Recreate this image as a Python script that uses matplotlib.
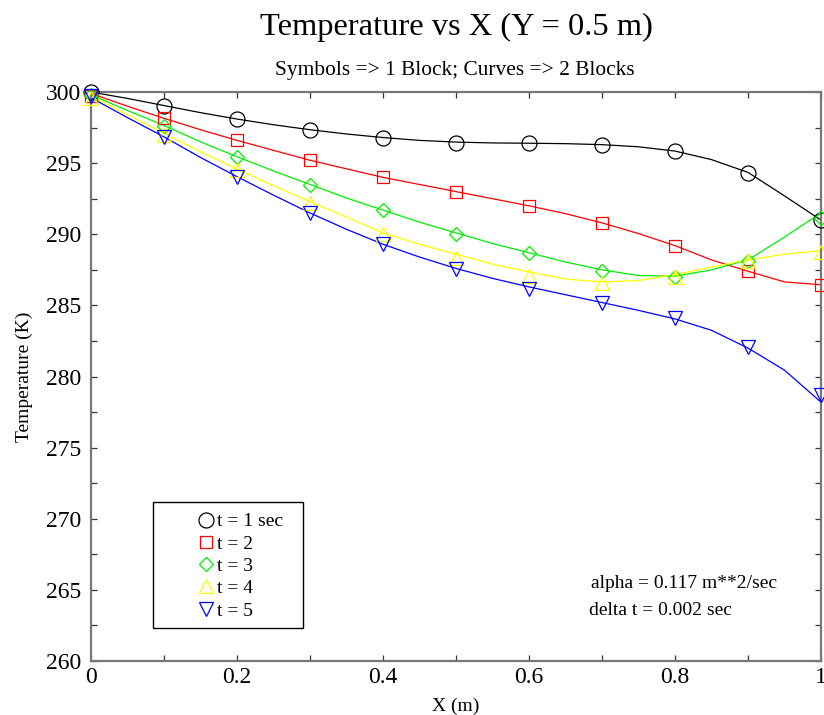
import numpy as np
import matplotlib
matplotlib.use('Agg')
import matplotlib.pyplot as plt
from matplotlib.patches import Rectangle
from matplotlib.ticker import MultipleLocator

plt.rcParams['font.family'] = ['Liberation Serif', 'DejaVu Serif']

# symbols: 1 block
x_sym = [0.0, 0.1, 0.2, 0.3, 0.4, 0.5, 0.6, 0.7, 0.8, 0.9, 1.0]
t1_sym = [300.0, 299.0, 298.1, 297.3, 296.8, 296.45, 296.4, 296.3, 295.85, 294.3, 291.0]
t2_sym = [299.7, 298.15, 296.6, 295.2, 294.0, 293.0, 292.0, 290.8, 289.2, 287.4, 286.45]
t3_sym = [299.8, 297.6, 295.45, 293.45, 291.7, 290.05, 288.65, 287.45, 287.0, 288.15, 291.15]
t4_sym = [299.6, 297.0, 294.5, 292.2, 290.0, 288.3, 287.1, 286.6, 287.0, 288.1, 288.75]
t5_sym = [299.7, 296.85, 294.05, 291.5, 289.3, 287.55, 286.15, 285.2, 284.1, 282.1, 278.7]

# curves: 2 blocks
x_curve = [0.0, 0.05, 0.1, 0.15, 0.2, 0.25, 0.3, 0.35, 0.4, 0.45, 0.5,
           0.55, 0.6, 0.65, 0.7, 0.75, 0.8, 0.85, 0.9, 0.95, 1.0]
t1_curve = [300.0, 299.55, 299.05, 298.55, 298.1, 297.7, 297.35, 297.05, 296.8, 296.6, 296.48,
            296.42, 296.4, 296.37, 296.3, 296.15, 295.85, 295.25, 294.35, 292.7, 291.0]
t2_curve = [299.9, 299.0, 298.15, 297.35, 296.6, 295.9, 295.2, 294.6, 294.0, 293.5, 293.0,
            292.5, 292.0, 291.45, 290.8, 290.05, 289.2, 288.2, 287.4, 286.65, 286.45]
t3_curve = [299.8, 298.7, 297.65, 296.5, 295.45, 294.45, 293.5, 292.55, 291.7, 290.85, 290.1,
            289.35, 288.7, 288.05, 287.5, 287.1, 287.05, 287.5, 288.2, 289.8, 291.5]
t4_curve = [299.7, 298.4, 297.1, 295.8, 294.6, 293.4, 292.3, 291.2, 290.1, 289.3, 288.6,
            287.9, 287.35, 286.85, 286.65, 286.75, 287.15, 287.7, 288.2, 288.6, 288.85]
t5_curve = [299.6, 298.2, 296.85, 295.4, 294.05, 292.75, 291.5, 290.35, 289.3, 288.4, 287.6,
            286.9, 286.3, 285.75, 285.2, 284.65, 284.05, 283.25, 282.0, 280.45, 278.2]

labels = ['t = 1 sec', 't = 2', 't = 3', 't = 4', 't = 5']
colors = ['black', 'red', '#00ee00', '#ffff00', 'blue']
markers = ['o', 's', 'D', '^', 'v']
msizes = [10.8, 9.1, 7.1, 9.4, 9.4]

sym_data = [t1_sym, t2_sym, t3_sym, t4_sym, t5_sym]
curve_data = [t1_curve, t2_curve, t3_curve, t4_curve, t5_curve]

fig = plt.figure(figsize=(8.24, 7.15), dpi=100)
ax = fig.add_axes([0.1104, 0.0755, 0.8859, 0.7958])

handles = []
for i in range(5):
    ax.plot(x_curve, curve_data[i], color=colors[i], lw=0.9, zorder=2)
    h, = ax.plot(x_sym, sym_data[i], ls='none', marker=markers[i], ms=msizes[i],
                 mfc='none', mec=colors[i], mew=0.9, clip_on=False, zorder=3,
                 label=labels[i])
    handles.append(h)

ax.set_xlim(0, 1)
ax.set_ylim(260, 300)
ax.xaxis.set_major_locator(MultipleLocator(0.2))
ax.xaxis.set_minor_locator(MultipleLocator(0.1))
ax.yaxis.set_major_locator(MultipleLocator(5))
ax.yaxis.set_minor_locator(MultipleLocator(2.5))
ax.set_xticks([0, 0.2, 0.4, 0.6, 0.8, 1.0])
ax.set_xticklabels(['0', '0.2', '0.4', '0.6', '0.8', '1'])
ax.tick_params(which='both', direction='in', top=True, right=True, length=4.5,
               width=0.9, color='#333333', labelsize=17)
ax.tick_params(axis='x', pad=4)
ax.tick_params(axis='y', pad=7)
for s in ax.spines.values():
    s.set_color('#777777')
    s.set_linewidth(1.6)

ax.set_xlabel('X (m)', fontsize=14)
ax.set_ylabel('Temperature (K)', fontsize=14)
ax.xaxis.set_label_coords(0.5, -0.064)
ax.yaxis.set_label_coords(-0.08, 0.5)

fig.text(0.554, 0.962, 'Temperature vs X (Y = 0.5 m)', fontsize=23.4, ha='center', va='center')
fig.text(0.552, 0.902, 'Symbols => 1 Block; Curves => 2 Blocks', fontsize=15.4, ha='center', va='center')

# legend box drawn separately so the padding matches
ax.add_patch(Rectangle((0.085, 0.058), 0.205, 0.221, transform=ax.transAxes,
                       fill=False, ec='black', lw=1.0, zorder=4))
ax.legend(handles=handles, loc='upper left', bbox_to_anchor=(0.133, 0.2775),
          frameon=False, borderpad=0, handlelength=0.8, handletextpad=0.2,
          labelspacing=0.24, fontsize=14, numpoints=1)

ax.text(0.685, 0.137, 'alpha = 0.117 m**2/sec', transform=ax.transAxes, fontsize=14, va='center')
ax.text(0.682, 0.0896, 'delta t = 0.002 sec', transform=ax.transAxes, fontsize=14, va='center')

fig.savefig('out.png', dpi=100)
